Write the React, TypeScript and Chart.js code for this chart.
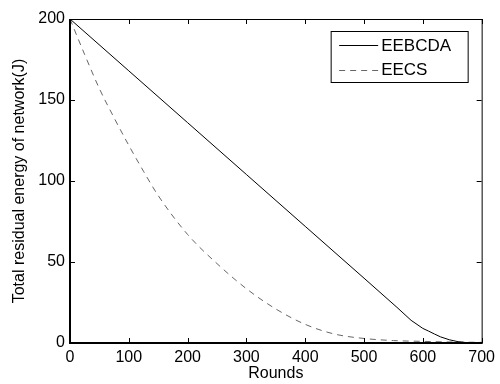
import React, { useEffect, useRef } from 'react';
import { Chart, registerables } from 'chart.js';

Chart.register(...registerables);

// EEBCDA series (solid black)
const eebcdaRounds = [0, 100, 200, 300, 400, 500, 556, 580, 600, 610, 620, 630, 645, 660, 675, 690, 700];
const eebcdaEnergy = [200, 168, 136, 104, 72, 40, 22, 14, 9, 7.3, 5.5, 3.8, 2, 0.8, 0.2, 0, 0];

// EECS series (dashed gray)
const eecsRounds = [0, 25, 50, 75, 100, 125, 150, 200, 250, 300, 350, 400, 450, 500, 550, 600, 650, 700];
const eecsEnergy = [200, 178, 157, 139, 122, 106, 91, 67, 49, 33.5, 21, 11.5, 5.5, 2.8, 1.5, 1, 0.6, 0.4];

const seriesLabels = ['EEBCDA', 'EECS'];
const xTicks = [0, 100, 200, 300, 400, 500, 600, 700];
const yTicks = [0, 50, 100, 150, 200];
const xTitle = 'Rounds';
const yTitle = 'Total residual energy of network(J)';

const FONT = '"Liberation Sans", Arial, Helvetica, sans-serif';

const framePlugin = {
  id: 'matlabFrame',
  afterDraw(chart: any) {
    const { ctx, chartArea } = chart;
    const { left, right, top, bottom } = chartArea;
    const xs = chart.scales.x;
    const ys = chart.scales.y;
    ctx.save();
    ctx.strokeStyle = '#000';
    ctx.lineWidth = 1;
    ctx.beginPath();
    ctx.moveTo(left, top + 0.5);
    ctx.lineTo(right + 0.5, top + 0.5);
    ctx.lineTo(right + 0.5, bottom);
    ctx.stroke();
    ctx.lineWidth = 2;
    ctx.beginPath();
    ctx.moveTo(left, top);
    ctx.lineTo(left, bottom);
    ctx.lineTo(right + 1, bottom);
    ctx.stroke();
    ctx.lineWidth = 1;
    const tl = 5;
    ctx.beginPath();
    xTicks.forEach((v) => {
      const px = Math.round(xs.getPixelForValue(v)) + 0.5;
      ctx.moveTo(px, bottom);
      ctx.lineTo(px, bottom - tl);
      ctx.moveTo(px, top);
      ctx.lineTo(px, top + tl);
    });
    yTicks.forEach((v) => {
      const py = Math.round(ys.getPixelForValue(v)) + 0.5;
      ctx.moveTo(left, py);
      ctx.lineTo(left + tl, py);
      ctx.moveTo(right, py);
      ctx.lineTo(right - tl, py);
    });
    ctx.stroke();
    ctx.restore();
  },
};

const legendPlugin = {
  id: 'boxLegend',
  afterDraw(chart: any) {
    const { ctx, chartArea } = chart;
    const bx = chartArea.right - 150.5;
    const by = chartArea.top + 12.5;
    const bw = 137;
    const bh = 51;
    ctx.save();
    ctx.fillStyle = '#fff';
    ctx.fillRect(bx, by, bw, bh);
    ctx.strokeStyle = '#000';
    ctx.lineWidth = 1;
    ctx.setLineDash([]);
    ctx.strokeRect(bx, by, bw, bh);
    ctx.font = `17px ${FONT}`;
    ctx.textBaseline = 'middle';
    ctx.textAlign = 'left';
    chart.data.datasets.forEach((ds: any, i: number) => {
      const cy = by + 13.5 + i * 24.5;
      ctx.strokeStyle = ds.borderColor;
      ctx.lineWidth = ds.borderWidth;
      ctx.setLineDash(ds.borderDash || []);
      ctx.beginPath();
      ctx.moveTo(bx + 8, Math.round(cy) + 0.5);
      ctx.lineTo(bx + 47, Math.round(cy) + 0.5);
      ctx.stroke();
      ctx.setLineDash([]);
      ctx.fillStyle = '#000';
      ctx.fillText(ds.label, bx + 50, cy + 1);
    });
    ctx.restore();
  },
};

export default function App() {
  const ref = useRef<HTMLCanvasElement | null>(null);

  useEffect(() => {
    if (!ref.current) return;
    const chart = new Chart(ref.current, {
      type: 'line',
      data: {
        datasets: [
          {
            label: seriesLabels[0],
            data: eebcdaRounds.map((r, i) => ({ x: r, y: eebcdaEnergy[i] })),
            borderColor: '#000000',
            borderWidth: 1,
            pointRadius: 0,
            tension: 0,
            fill: false,
          },
          {
            label: seriesLabels[1],
            data: eecsRounds.map((r, i) => ({ x: r, y: eecsEnergy[i] })),
            borderColor: '#666666',
            borderWidth: 1,
            borderDash: [6, 5],
            pointRadius: 0,
            cubicInterpolationMode: 'monotone',
            fill: false,
          },
        ],
      },
      plugins: [framePlugin, legendPlugin],
      options: {
        animation: false,
        responsive: false,
        maintainAspectRatio: false,
        layout: { padding: { top: 19, right: 15, left: 0, bottom: 0 } },
        plugins: {
          legend: { display: false },
          tooltip: { enabled: false },
        },
        scales: {
          x: {
            type: 'linear',
            min: 0,
            max: 700,
            afterFit: (s: any) => { s.height = 41; },
            afterBuildTicks: (s: any) => { s.ticks = xTicks.map((v) => ({ value: v })); },
            grid: { display: false, drawTicks: false },
            border: { display: false },
            ticks: {
              padding: 5,
              color: '#000',
              font: { family: FONT, size: 16 },
              maxRotation: 0,
              autoSkip: false,
            },
            title: {
              display: true,
              text: xTitle,
              color: '#000',
              font: { family: FONT, size: 16, lineHeight: 1 },
              padding: { top: 0, bottom: 2 },
            },
          },
          y: {
            type: 'linear',
            min: 0,
            max: 200,
            afterFit: (s: any) => { s.width = 70; },
            afterBuildTicks: (s: any) => { s.ticks = yTicks.map((v) => ({ value: v })); },
            grid: { display: false, drawTicks: false },
            border: { display: false },
            ticks: {
              padding: 5,
              color: '#000',
              font: { family: FONT, size: 16 },
              autoSkip: false,
            },
            title: {
              display: true,
              text: yTitle,
              color: '#000',
              font: { family: FONT, size: 16, lineHeight: 1 },
              padding: { top: 12, bottom: 0 },
            },
          },
        },
      },
    } as any);
    return () => chart.destroy();
  }, []);

  return (
    <div style={{ position: 'fixed', left: 0, top: 0, width: 500, height: 384, background: '#fff' }}>
      <canvas ref={ref} width={500} height={384} style={{ display: 'block', width: 500, height: 384 }} />
    </div>
  );
}
